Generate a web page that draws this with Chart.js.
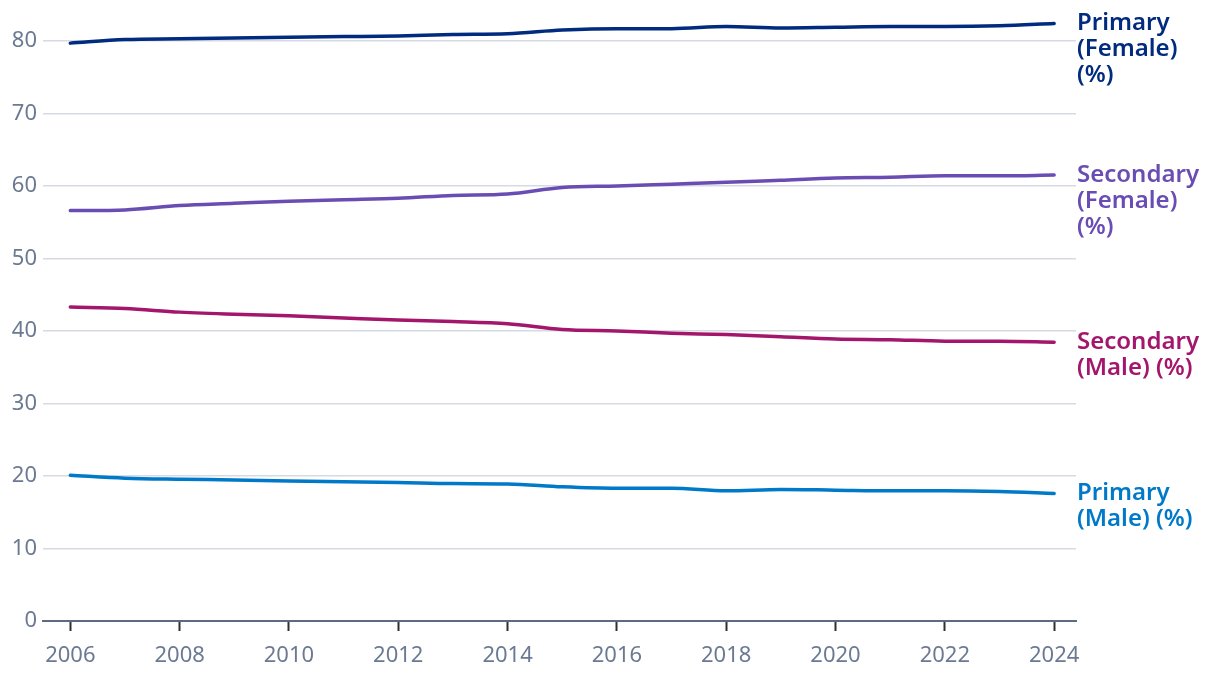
<!DOCTYPE html>
<html lang="en">
<head>
    <meta charset="UTF-8">
    <title>Enrolment by level and sex</title>
    <script src="https://cdn.jsdelivr.net/npm/chart.js"></script>
    <style>
        html, body { margin: 0; padding: 0; background: #fff; }
        #wrap { width: 1220px; height: 678px; }
    </style>
</head>
<body>
    <div id="wrap"><canvas id="enrolChart" width="1220" height="678"></canvas></div>

    <script>
    const years = [2006, 2007, 2008, 2009, 2010, 2011, 2012, 2013, 2014, 2015,
                   2016, 2017, 2018, 2019, 2020, 2021, 2022, 2023, 2024];
    const yearTicks = [2006, 2008, 2010, 2012, 2014, 2016, 2018, 2020, 2022, 2024];
    const valueTicks = [0, 10, 20, 30, 40, 50, 60, 70, 80];

    const primaryFemale = [79.7, 80.2, 80.3, 80.4, 80.5, 80.6, 80.7, 80.9, 81.0, 81.5,
                           81.7, 81.7, 82.0, 81.8, 81.9, 82.0, 82.0, 82.1, 82.4];
    const secondaryFemale = [56.6, 56.7, 57.3, 57.6, 57.9, 58.1, 58.3, 58.7, 58.9, 59.8,
                             60.0, 60.25, 60.5, 60.8, 61.1, 61.2, 61.4, 61.4, 61.5];
    const secondaryMale = [43.3, 43.1, 42.6, 42.3, 42.1, 41.8, 41.5, 41.3, 41.0, 40.2,
                           40.0, 39.7, 39.5, 39.2, 38.9, 38.8, 38.6, 38.6, 38.45];
    const primaryMale = [20.1, 19.7, 19.55, 19.45, 19.3, 19.2, 19.1, 18.95, 18.9, 18.5,
                         18.3, 18.3, 17.95, 18.15, 18.05, 17.95, 17.95, 17.85, 17.6];

    const seriesLabels = [
        ['Primary', '(Female)', '(%)'],
        ['Secondary', '(Female)', '(%)'],
        ['Secondary', '(Male) (%)'],
        ['Primary', '(Male) (%)']
    ];
    const seriesColors = ['#012b7e', '#6a4db3', '#a3166b', '#0079c8'];
    const seriesData = [primaryFemale, secondaryFemale, secondaryMale, primaryMale];

    const tickColor = '#6b7a92';
    const fontFamily = '"Noto Sans", "Open Sans", sans-serif';

    // draw series names next to the last point of each line
    const endLabels = {
        id: 'endLabels',
        afterDatasetsDraw(chart) {
            const ctx = chart.ctx;
            ctx.save();
            ctx.font = '600 24px ' + fontFamily;
            ctx.textBaseline = 'middle';
            ctx.textAlign = 'left';
            chart.data.datasets.forEach((ds, i) => {
                const meta = chart.getDatasetMeta(i);
                const last = meta.data[meta.data.length - 1];
                ctx.fillStyle = ds.borderColor;
                ds.endLabel.forEach((line, j) => {
                    ctx.fillText(line, chart.chartArea.right + 1, last.y + j * 26);
                });
            });
            ctx.restore();
        }
    };

    const datasets = seriesData.map((vals, i) => ({
        label: seriesLabels[i].join(' '),
        endLabel: seriesLabels[i],
        data: vals.map((v, k) => ({x: years[k], y: v})),
        borderColor: seriesColors[i],
        backgroundColor: seriesColors[i],
        borderWidth: 3.5,
        pointRadius: 0,
        fill: false,
        cubicInterpolationMode: 'monotone',
        borderCapStyle: 'round'
    }));

    const ctx = document.getElementById('enrolChart').getContext('2d');
    const enrolChart = new Chart(ctx, {
        type: 'line',
        data: { datasets: datasets },
        plugins: [endLabels],
        options: {
            responsive: false,
            animation: false,
            layout: { padding: { top: 17, right: 144, left: 0, bottom: 0 } },
            plugins: {
                legend: { display: false },
                tooltip: { enabled: false }
            },
            scales: {
                x: {
                    type: 'linear',
                    min: 2005.5,
                    max: 2024.4,
                    afterBuildTicks(axis) {
                        axis.ticks = yearTicks.map(v => ({value: v}));
                    },
                    afterFit(axis) { axis.height = 57; },
                    border: { display: true, color: '#5d6b82', width: 2 },
                    grid: {
                        drawOnChartArea: false,
                        drawTicks: true,
                        tickLength: 10,
                        tickColor: '#2f2f2f',
                        tickWidth: 2
                    },
                    ticks: {
                        color: tickColor,
                        font: { family: fontFamily, size: 22 },
                        padding: 12,
                        maxRotation: 0,
                        callback: v => String(v)
                    }
                },
                y: {
                    min: 0,
                    max: 83,
                    afterBuildTicks(axis) {
                        axis.ticks = valueTicks.map(v => ({value: v}));
                    },
                    afterFit(axis) { axis.width = 43; },
                    border: { display: false },
                    grid: {
                        color: '#d5dae3',
                        lineWidth: 1.5,
                        drawTicks: false
                    },
                    ticks: {
                        color: tickColor,
                        font: { family: fontFamily, size: 22 },
                        padding: 6
                    }
                }
            }
        }
    });
    </script>
</body>
</html>
